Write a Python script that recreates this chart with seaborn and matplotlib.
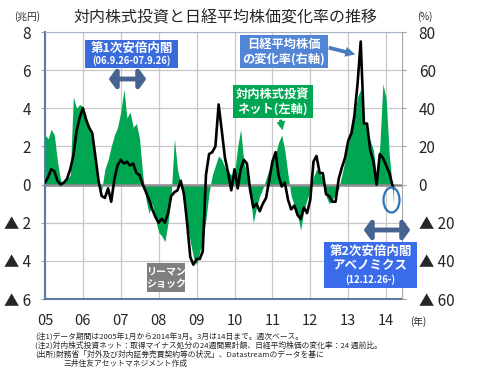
import matplotlib
matplotlib.use("Agg")
import matplotlib.pyplot as plt
import matplotlib.patches as mpatches
import pandas as pd
import seaborn as sns

# 週次データを月次で読み取った値 (2005年1月〜2014年3月14日)
dates = list(pd.date_range("2005-01-01", "2014-03-01", freq="MS")) + [pd.Timestamp("2014-03-14")]

# 対内株式投資ネット (兆円, 左軸)
net_invest = [
    2.6, 2.4, 2.9, 2.6, 1.2, 0.2, 0.1, 0.3, 0.5, 4.6, 4.0, 4.2,      # 2005
    4.1, 3.6, 3.0, 2.3, 1.2, 0.0, -0.3, 0.8, 1.3, 2.0, 2.6, 3.0,     # 2006
    3.8, 5.0, 3.5, 3.8, 3.0, 3.2, 2.4, 0.5, -0.8, -1.5, -1.0, -1.8,  # 2007
    -2.5, -2.7, -3.0, -2.0, -0.5, 2.4, 0.8, 0.0, -1.0, -2.0, -3.0, -3.8,  # 2008
    -4.2, -3.5, -3.0, -1.8, -0.4, 0.5, 1.0, 1.5, 1.3, 0.9, 0.7, 0.5,  # 2009
    0.6, 2.0, 2.9, 1.2, 0.5, -0.5, -2.0, -1.2, -0.6, -0.2, 0.3, 0.8,  # 2010
    1.2, 1.6, 2.2, 2.6, 1.8, 0.5, -0.6, -1.1, -1.6, -2.4, -1.3, -0.8,  # 2011
    -0.3, 0.4, 0.8, 0.6, 0.3, -0.6, -1.0, -0.8, -0.5, -0.2, 0.5, 1.3,  # 2012
    2.2, 2.9, 3.6, 4.6, 5.0, 3.4, 2.8, 2.3, 1.8, 0.4, 2.0, 5.3,      # 2013
    4.5, 1.5, 0.0, -1.0,                                               # 2014
]

# 日経平均株価の変化率 (%, 右軸)
nikkei_chg = [
    1, 4, 8, 7, 2, 0, 1, 3, 8, 15, 28, 35,            # 2005
    40, 34, 30, 27, 15, 2, -6, -7, -2, -9, 3, 10,     # 2006
    13, 11, 12, 10, 11, 6, 5, 0, -4, -8, -13, -17,    # 2007
    -20, -18, -20, -15, -6, -4, -3, 2, -5, -20, -38, -42,  # 2008
    -39, -39, -35, 5, 16, 17, 20, 42, 28, 14, 6, -3,  # 2009
    8, -2, 8, 13, 11, -3, -12, -10, -14, -10, -7, 2,  # 2010
    12, 17, 5, -1, 1, -8, -13, -11, -16, -18, -12, -15,  # 2011
    -8, 12, 15, 6, 6, -5, -6, -9, -9, 3, 9, 14,       # 2012
    23, 27, 36, 53, 75, 32, 32, 18, 12, 0, 16, 14,    # 2013
    10, 6, 0, -2,                                       # 2014
]

year_labels = ["05", "06", "07", "08", "09", "10", "11", "12", "13", "14"]
left_ticks = [-6, -4, -2, 0, 2, 4, 6, 8]
right_ticks = [-60, -40, -20, 0, 20, 40, 60, 80]

df = pd.DataFrame({"date": dates, "net": net_invest, "nikkei": nikkei_chg})

sns.set_style("white")
FONT = ["Noto Sans CJK JP", "DejaVu Sans"]
plt.rcParams["font.family"] = FONT

GREEN = "#00A651"
W, H = 478, 385


def fx(x):
    return x / W


def fy(y):
    return 1 - y / H


def tri_label(v):
    return "0" if v == 0 else (f"▲ {abs(v)}" if v < 0 else str(v))


fig = plt.figure(figsize=(W / 100, H / 100), dpi=100)
ax = fig.add_axes([fx(45), fy(299), (402 - 45) / W, (299 - 32) / H])

ax.fill_between(df["date"], 0, df["net"], color=GREEN, lw=0, zorder=2)
ax.axhline(0, color="#8C8C8C", lw=1.8, zorder=3)
ax.set_ylim(-6, 8)
ax.set_xlim(pd.Timestamp("2005-01-01"), pd.Timestamp("2014-06-03"))
ax.set_yticks(left_ticks)
ax.set_yticklabels([tri_label(v) for v in left_ticks])
ax.set_xticks(pd.date_range("2005-01-01", "2014-01-01", freq="YS"))
ax.set_xticklabels(year_labels)
ax.grid(True, color="#C8C8C8", lw=0.9)
ax.set_axisbelow(True)
ax.tick_params(axis="y", length=3, color="#A0A0A0", pad=7, labelsize=11)
ax.tick_params(axis="x", length=0, pad=11, labelsize=10.5)
for s in ["left", "bottom"]:
    ax.spines[s].set_color("#5B7AA6")
    ax.spines[s].set_linewidth(1.5)
ax.spines["top"].set_color("#A9B4C4")
ax.spines["right"].set_visible(False)

ax2 = ax.twinx()
sns.lineplot(data=df, x="date", y="nikkei", ax=ax2, color="black", lw=1.9)
ax2.set_ylim(-60, 80)
ax2.set_yticks(right_ticks)
ax2.set_yticklabels([tri_label(v) for v in right_ticks])
ax2.tick_params(axis="y", length=3, color="#A0A0A0", pad=9, labelsize=11)
ax2.set_xlabel("")
ax2.set_ylabel("")
ax.set_xlabel("")
for s in ["left", "bottom", "top"]:
    ax2.spines[s].set_visible(False)
ax2.spines["right"].set_color("#A6A6A6")

# タイトル・単位
fig.text(fx(225), fy(18), "対内株式投資と日経平均株価変化率の推移", ha="center", va="center", fontsize=11.5)
fig.text(fx(27), fy(17), "(兆円)", ha="center", va="center", fontsize=7)
fig.text(fx(425), fy(17), "(%)", ha="center", va="center", fontsize=7)
fig.text(fx(418), fy(322), "(年)", ha="center", va="center", fontsize=7)


def label_box(x0, y0, x1, y1, color, lines):
    fig.add_artist(mpatches.Rectangle((fx(x0), fy(y1)), (x1 - x0) / W, (y1 - y0) / H,
                                      transform=fig.transFigure, fc=color, ec="none", zorder=5))
    for (yy, txt, size) in lines:
        fig.text(fx((x0 + x1) / 2), fy(yy), txt, ha="center", va="center", color="white",
                 fontsize=size, fontweight="bold", zorder=6)


def fig_arrow(p0, p1, style, color, lw=0, ms=1):
    fig.add_artist(mpatches.FancyArrowPatch((fx(p0[0]), fy(p0[1])), (fx(p1[0]), fy(p1[1])),
                                            transform=fig.transFigure, arrowstyle=style,
                                            color=color, lw=lw, mutation_scale=ms, zorder=5))


label_box(85, 40, 178, 68, "#3A6BDB", [(48, "第1次安倍内閣", 9), (61, "(06.9.26-07.9.26)", 6.8)])
fig_arrow((106, 79), (149, 79), "<|-|>,head_length=0.5,head_width=0.7", "#45648F", lw=3.5, ms=8)

label_box(240, 35, 328, 68, "#5285D6", [(44, "日経平均株価", 8.8), (59, "の変化率(右軸)", 8.8)])
fig_arrow((326, 47), (358, 55), "simple,head_length=0.8,head_width=0.8,tail_width=0.3", "#4A7BC0", ms=9)

label_box(233, 85, 313, 118, "#00A651", [(94, "対内株式投資", 8.8), (109, "ネット(左軸)", 8.8)])
fig_arrow((280, 117), (283, 133), "simple,head_length=0.8,head_width=0.8,tail_width=0.3", "#00A651", ms=8)

label_box(147, 263, 185, 292, "#7F7F7F", [(271, "リーマン", 7.2), (284, "ショック", 7.2)])

label_box(324, 242, 417, 288, "#3A6BEB", [(251, "第2次安倍内閣", 9), (266, "アベノミクス", 9),
                                          (280, "(12.12.26-)", 6.8)])
fig_arrow((361, 230), (413, 230), "<|-|>,head_length=0.5,head_width=0.7", "#45648F", lw=3.5, ms=8)

fig.add_artist(mpatches.Ellipse((fx(391.5), fy(200)), 16 / W, 25 / H, transform=fig.transFigure,
                                fill=False, ec="#2E75B6", lw=1.6, zorder=5))

notes = [
    (35, 336, "(注1)データ期間は2005年1月から2014年3月。3月は14日まで。週次ベース。"),
    (35, 345, "(注2)対内株式投資ネット：取得マイナス処分の24週間累計額、日経平均株価の変化率：24 週前比。"),
    (35, 354, "(出所)財務省「対外及び対内証券売買契約等の状況」、Datastreamのデータを基に"),
    (63, 364, "三井住友アセットマネジメント作成"),
]
for x, y, t in notes:
    fig.text(fx(x), fy(y), t, ha="left", va="center", fontsize=5.6)

fig.savefig("out.png", dpi=100)
